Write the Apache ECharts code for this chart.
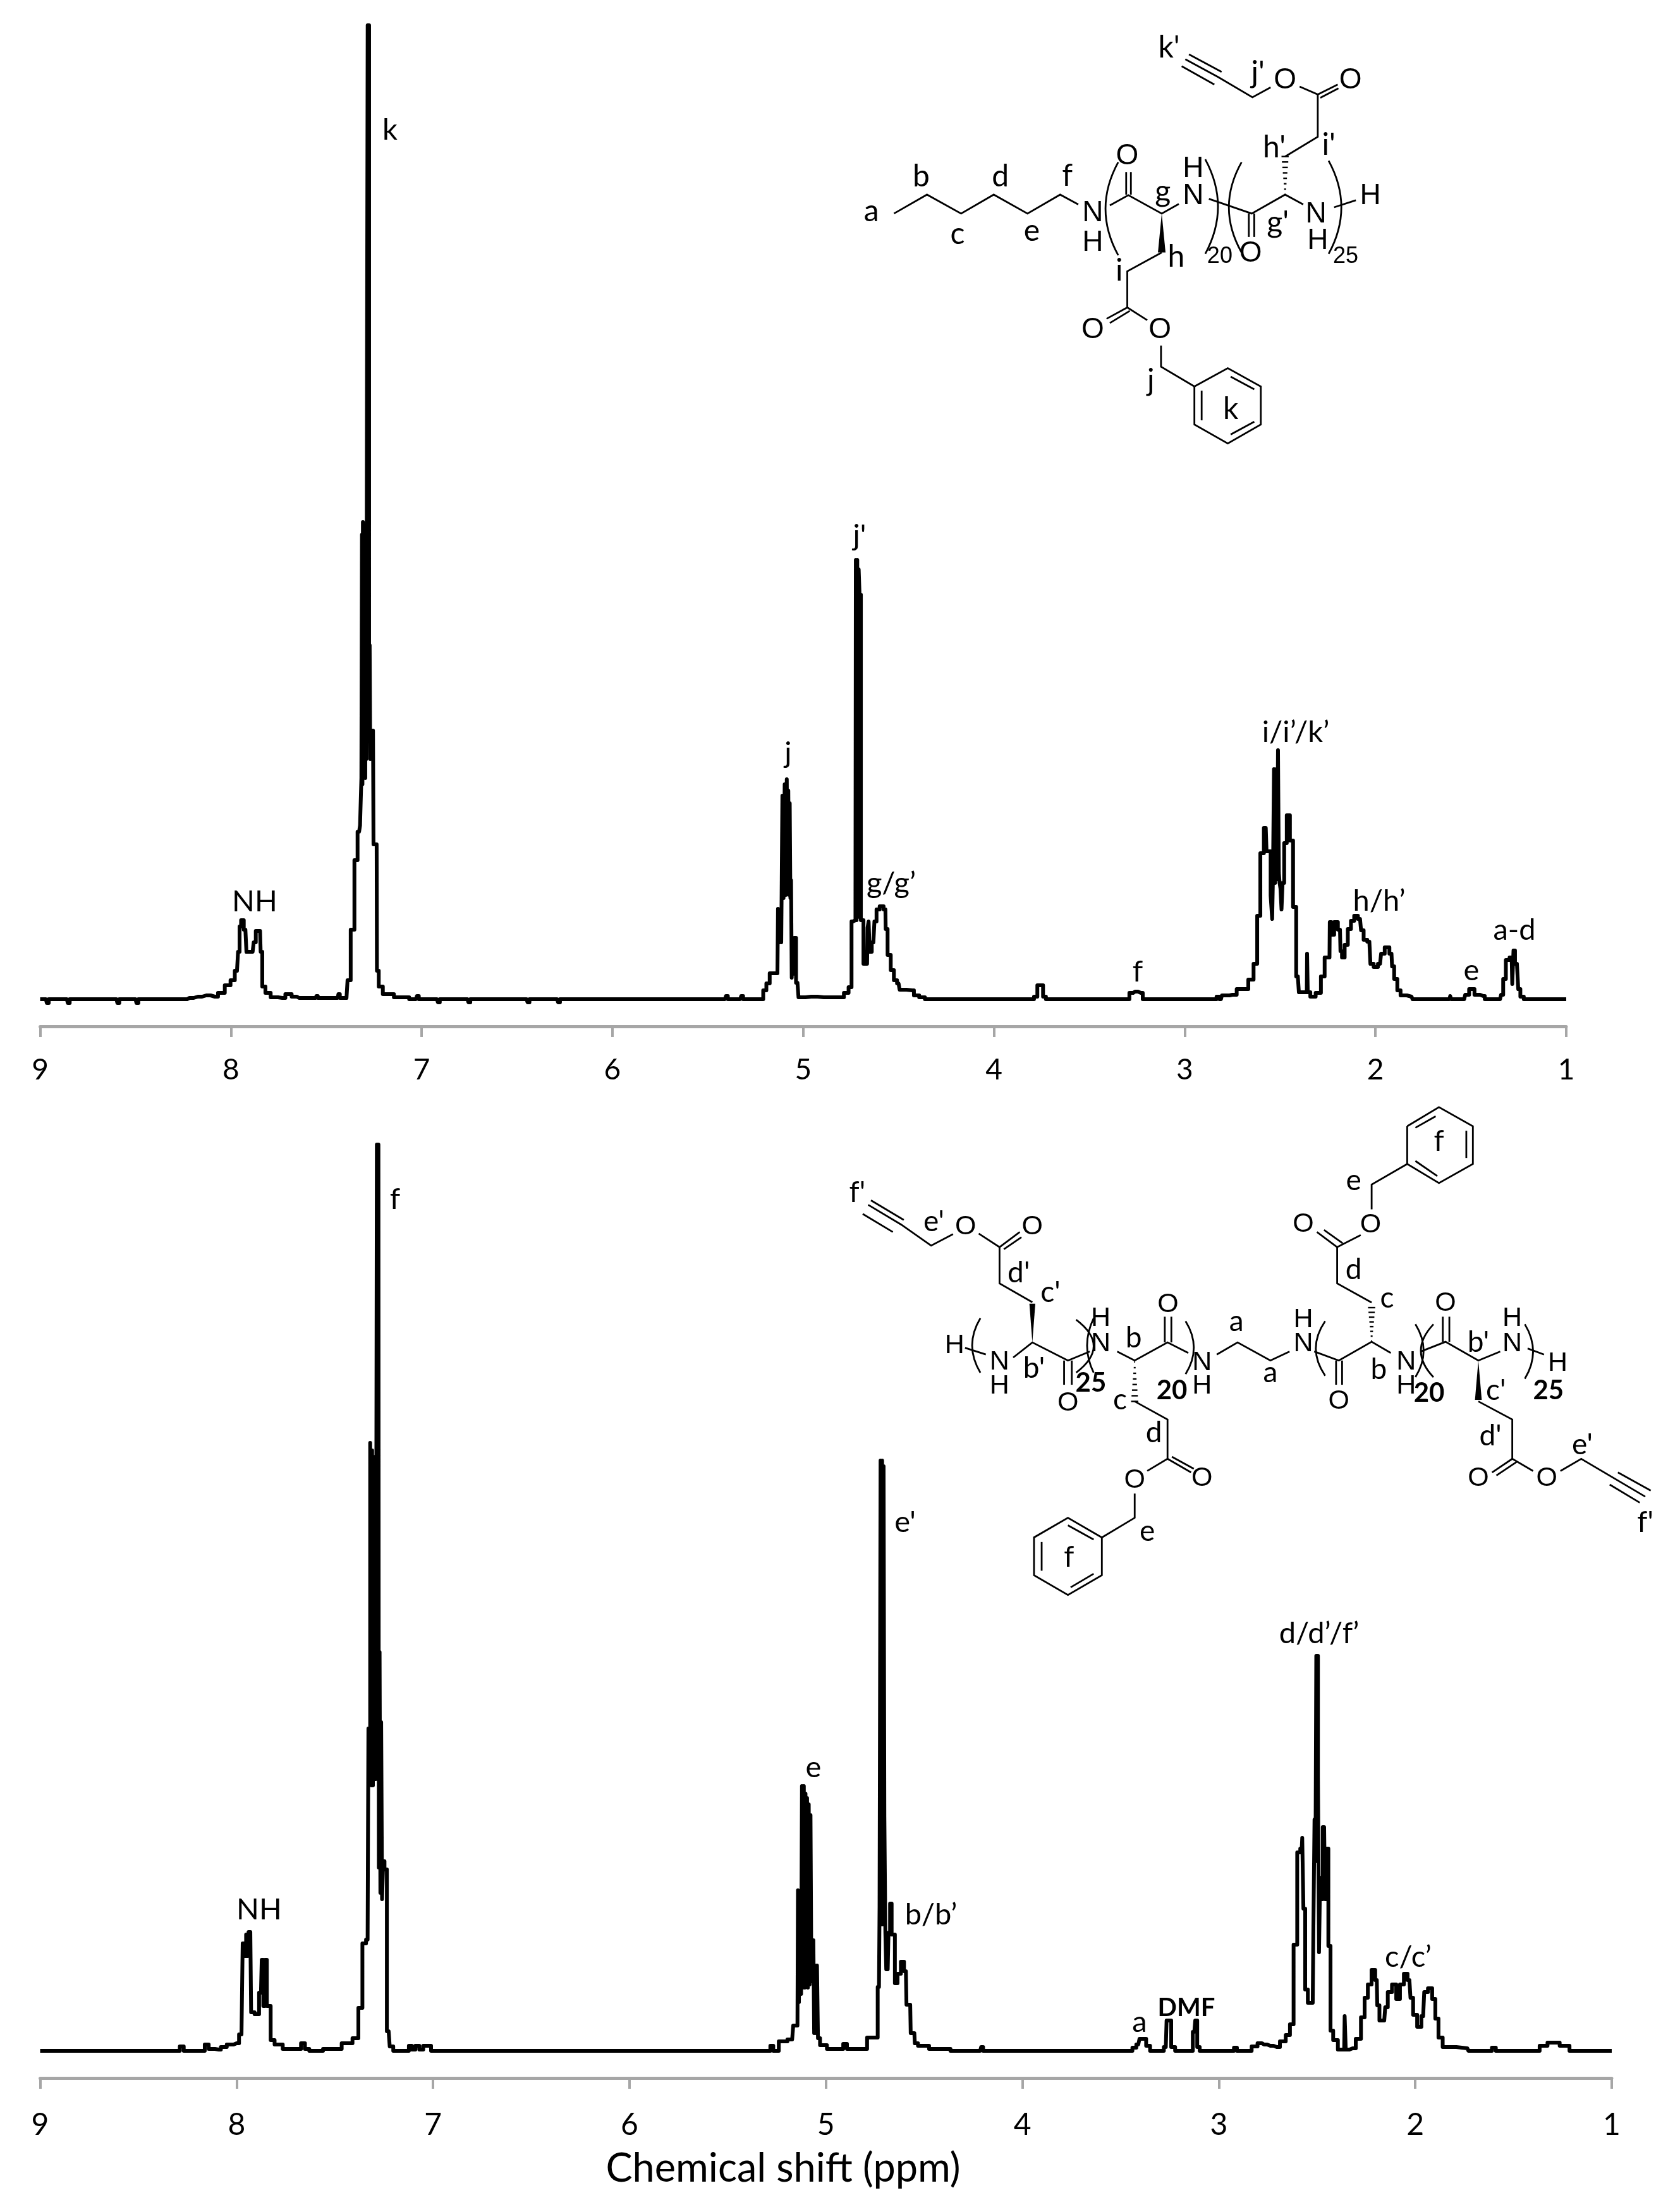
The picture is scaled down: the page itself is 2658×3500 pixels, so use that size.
<!DOCTYPE html>
<html>
<head>
<meta charset="utf-8">
<title>1H NMR spectra</title>
<script src="https://cdn.jsdelivr.net/npm/echarts@6/dist/echarts.min.js"></script>
<style>
  html, body { margin: 0; padding: 0; background: #fff; }
  #chart { width: 2658px; height: 3500px; }
</style>
</head>
<body>
<div id="chart"></div>
<script>
// x axis, ppm
const shiftMin = 1
const shiftMax = 9
const xTitle = 'Chemical shift (ppm)'

// upper spectrum, intensity in arbitrary units
const ppmTop = [
  9.00, 8.97, 8.96, 8.95, 8.86, 8.85, 8.84, 8.60, 8.59, 8.58, 8.50, 8.49, 8.48, 8.23,
  8.217, 8.173, 8.129, 8.084, 8.051, 8.013, 7.991, 7.968, 7.957, 7.952, 7.941, 7.924, 7.913, 7.886,
  7.875, 7.864, 7.847, 7.841, 7.830, 7.808, 7.775, 7.731, 7.698, 7.665, 7.643, 7.555, 7.549, 7.540,
  7.440, 7.433, 7.425, 7.394, 7.383, 7.361, 7.344, 7.328, 7.318, 7.314, 7.312, 7.309, 7.307, 7.304,
  7.302, 7.299, 7.297, 7.294, 7.292, 7.288, 7.285, 7.281, 7.277, 7.274, 7.271, 7.268, 7.265, 7.255,
  7.250, 7.236, 7.233, 7.217, 7.190, 7.101, 7.03, 7.02, 7.01, 6.92, 6.91, 6.90, 6.76, 6.75,
  6.74, 6.45, 6.44, 6.43, 6.29, 6.28, 6.27, 5.41, 5.40, 5.39, 5.33, 5.32, 5.31, 5.218,
  5.201, 5.185, 5.166, 5.135, 5.129, 5.122, 5.118, 5.112, 5.106, 5.100, 5.094, 5.088, 5.084, 5.080,
  5.076, 5.072, 5.069, 5.065, 5.062, 5.058, 5.054, 5.050, 5.045, 5.030, 5.019, 4.958, 4.892, 4.803,
  4.770, 4.754, 4.739, 4.726, 4.722, 4.718, 4.715, 4.711, 4.707, 4.702, 4.693, 4.675, 4.665, 4.660,
  4.654, 4.649, 4.632, 4.621, 4.610, 4.588, 4.569, 4.566, 4.549, 4.533, 4.516, 4.500, 4.489, 4.428,
  4.411, 4.373, 4.351, 3.80, 3.78, 3.765, 3.75, 3.735, 3.72, 3.30, 3.28, 3.26, 3.23, 3.21,
  2.84, 2.826, 2.81, 2.80, 2.78, 2.750, 2.705, 2.683, 2.650, 2.628, 2.612, 2.595, 2.575, 2.567,
  2.556, 2.543, 2.540, 2.535, 2.529, 2.523, 2.518, 2.513, 2.509, 2.504, 2.501, 2.495, 2.490, 2.484,
  2.473, 2.457, 2.440, 2.424, 2.407, 2.396, 2.369, 2.360, 2.357, 2.353, 2.330, 2.297, 2.275, 2.258,
  2.241, 2.238, 2.225, 2.208, 2.186, 2.181, 2.170, 2.153, 2.137, 2.120, 2.103, 2.081, 2.070, 2.054,
  2.032, 2.021, 1.998, 1.976, 1.965, 1.938, 1.916, 1.910, 1.894, 1.877, 1.860, 1.811, 1.800, 1.612,
  1.605, 1.601, 1.535, 1.524, 1.494, 1.468, 1.435, 1.419, 1.347, 1.336, 1.325, 1.308, 1.286, 1.280,
  1.273, 1.264, 1.253, 1.250, 1.231, 1.214, 1.00
]
const intensityTop = [
  0, 0, -6, 0, 0, -6, 0, 0, -6, 0, 0, -6, 0, 0,
  2, 4, 6, 4, 10, 22, 30, 45, 75, 115, 125, 110, 75, 75,
  90, 108, 108, 75, 20, 10, 3, 2, 8, 4, 2, 2, 5, 2,
  2, 8, 2, 2, 30, 110, 220, 265, 275, 350, 735, 340, 755, 350,
  735, 380, 740, 350, 750, 380, 1000, 1541, 1541, 450, 560, 380, 425, 425,
  245, 245, 45, 20, 8, 3, 0, 5, 0, 0, -5, 0, 0, -5,
  0, 0, -5, 0, 0, -5, 0, 0, 5, 0, 0, 5, 0, 0,
  14, 25, 41, 41, 143, 90, 128, 90, 322, 160, 340, 165, 348, 170,
  330, 165, 310, 160, 188, 34, 97, 40, 97, 26, 3, 4, 3, 3,
  10, 19, 123, 125, 695, 125, 695, 130, 680, 640, 125, 56, 56, 113,
  123, 75, 90, 123, 142, 147, 142, 111, 70, 46, 30, 25, 15, 14,
  6, 3, 0, 0, 4, 22, 22, 4, 0, 0, 10, 12, 10, 0,
  0, 4, 0, 6, 6, 7, 16, 16, 31, 56, 132, 231, 271, 234,
  234, 164, 127, 190, 364, 184, 364, 190, 394, 200, 184, 175, 142, 184,
  247, 291, 251, 146, 36, 11, 11, 11, 72, 11, 4, 10, 36, 66,
  66, 122, 102, 122, 110, 76, 66, 86, 111, 124, 132, 127, 109, 94,
  91, 56, 51, 56, 72, 82, 72, 52, 32, 14, 6, 4, 0, 0,
  5, 0, 0, 7, 16, 7, 5, 0, 0, 7, 32, 62, 66, 24,
  77, 56, 56, 16, 4, 0, 0
]

// lower spectrum
const ppmBottom = [
  9.00, 8.30, 8.278, 8.26, 8.17, 8.154, 8.13, 8.09, 8.07, 8.03, 8.00, 7.975, 7.963, 7.955,
  7.948, 7.942, 7.936, 7.930, 7.922, 7.895, 7.876, 7.868, 7.860, 7.852, 7.840, 7.813, 7.80, 7.73,
  7.68, 7.664, 7.64, 7.62, 7.50, 7.43, 7.39, 7.370, 7.349, 7.333, 7.325, 7.315, 7.312, 7.308,
  7.304, 7.301, 7.297, 7.293, 7.289, 7.283, 7.278, 7.274, 7.270, 7.266, 7.262, 7.257, 7.250, 7.244,
  7.226, 7.215, 7.19, 7.13, 7.116, 7.10, 7.08, 7.06, 7.04, 7.02, 7.00, 5.29, 5.276, 5.26,
  5.22, 5.172, 5.161, 5.145, 5.140, 5.135, 5.129, 5.124, 5.120, 5.115, 5.110, 5.106, 5.102, 5.098,
  5.094, 5.090, 5.085, 5.081, 5.076, 5.072, 5.070, 5.066, 5.062, 5.058, 5.054, 5.048, 5.043, 5.038,
  5.022, 4.968, 4.92, 4.904, 4.882, 4.80, 4.781, 4.743, 4.730, 4.724, 4.720, 4.716, 4.712, 4.708,
  4.705, 4.700, 4.695, 4.691, 4.687, 4.684, 4.679, 4.668, 4.663, 4.652, 4.646, 4.625, 4.612, 4.593,
  4.587, 4.571, 4.566, 4.550, 4.545, 4.518, 4.432, 4.30, 4.215, 4.205, 4.195, 3.45, 3.43, 3.41,
  3.398, 3.38, 3.36, 3.34, 3.29, 3.27, 3.262, 3.25, 3.235, 3.21, 3.14, 3.125, 3.115, 3.105,
  3.09, 2.93, 2.916, 2.90, 2.84, 2.826, 2.78, 2.770, 2.738, 2.705, 2.673, 2.646, 2.630, 2.609,
  2.593, 2.578, 2.573, 2.566, 2.555, 2.539, 2.522, 2.516, 2.510, 2.506, 2.502, 2.498, 2.493, 2.487,
  2.482, 2.478, 2.464, 2.455, 2.448, 2.437, 2.426, 2.410, 2.378, 2.362, 2.357, 2.351, 2.319, 2.287,
  2.266, 2.250, 2.233, 2.212, 2.196, 2.191, 2.174, 2.158, 2.148, 2.132, 2.105, 2.089, 2.067, 2.049,
  2.030, 2.019, 2.003, 1.978, 1.960, 1.949, 1.922, 1.906, 1.890, 1.874, 1.847, 1.735, 1.724, 1.62,
  1.60, 1.58, 1.38, 1.354, 1.30, 1.23, 1.20, 1.00
]
const intensityBottom = [
  0, 0, 7, 0, 0, 10, 3, 2, 6, 10, 12, 26, 170, 150,
  184, 150, 188, 188, 61, 58, 92, 144, 71, 144, 71, 17, 10, 3,
  3, 12, 3, 0, 3, 12, 20, 68, 170, 176, 510, 962, 420, 950, 420,
  930, 430, 940, 430, 1434, 1434, 290, 631, 250, 520, 240, 300, 287,
  31, 7, 0, 0, 8, 2, 8, 2, 8, 8, 0, 0, 8, 0,
  15, 18, 40, 40, 254, 77, 217, 90, 419, 100, 419, 100, 407, 105,
  400, 100, 390, 105, 373, 110, 175, 110, 175, 28, 135, 28, 135, 20,
  9, 3, 3, 11, 3, 3, 21, 21, 101, 230, 934, 200, 934, 200,
  925, 370, 187, 129, 129, 129, 187, 233, 184, 184, 107, 122, 141, 126,
  73, 73, 28, 28, 12, 8, 3, 0, 0, 6, 0, 0, 5, 10,
  19, 19, 8, 0, 0, 6, 48, 48, 6, 0, 0, 30, 48, 6,
  0, 0, 5, 0, 0, 7, 12, 10, 8, 6, 15, 25, 42, 168,
  314, 320, 337, 225, 97, 76, 76, 183, 366, 300, 625, 625, 433, 156,
  274, 240, 354, 240, 320, 166, 32, 17, 2, 2, 55, 2, 4, 19,
  53, 84, 105, 128, 112, 72, 48, 48, 69, 93, 105, 82, 105, 122,
  112, 84, 57, 38, 55, 93, 99, 82, 51, 21, 6, 4, 0, 0,
  5, 0, 0, 8, 13, 8, 0, 0
]

// peak assignments
const peakNamesTop = ['NH', 'k', "j'", 'j', 'g/g’', 'f', 'i/i’/k’', 'h/h’', 'e', 'a-d']
const peakNamesBottom = ['NH', 'f', 'e', "e'", 'b/b’', 'a', 'c/c’', 'd/d’/f’']
const peakSpotsTop = [[403, 1427], [617, 206], [1360, 848], [1247, 1192], [1410, 1398], [1800, 1538], [2050, 1159], [2182, 1426], [2328, 1536], [2396, 1472]]
const peakSpotsBottom = [[410, 3022], [625, 1898], [1287, 2797], [1432, 2409], [1473, 3030], [1803, 3200], [2228, 3097], [2087, 2585]]

const labelFont = 'Lato'
const atomFont = '"Liberation Sans"'

// structure drawings, traced in zoomed crop coordinates and mapped with the functions below
const mapStructTop = (x, y) => [1330 + x / 1.742, 20 + y / 2.24]
const mapStructBottom = (x, y) => [1300 + x / 1.155, 1770 + y / 2.09]

const bondsStructTop = [
  [147, 712, 238, 645, 332, 712, 422, 645, 515, 712, 605, 645, 655, 680],
  [742, 683, 793, 647, 885, 712, 932, 678],
  [787, 645, 787, 565], [800, 645, 800, 565],
  [885, 850, 790, 917, 790, 1045, 845, 1090],
  [790, 1045, 733, 1085], [797, 1057, 742, 1100],
  [883, 1180, 883, 1255, 975, 1325],
  [975, 1325, 1067, 1260, 1158, 1325, 1158, 1460, 1067, 1527, 975, 1460, 975, 1325],
  [995, 1340, 995, 1445], [1075, 1290, 1140, 1335], [1075, 1495, 1140, 1450],
  [1015, 660, 1133, 712, 1225, 645, 1275, 680],
  [1125, 712, 1125, 795], [1140, 712, 1140, 795],
  [1225, 510, 1315, 440, 1315, 290, 1265, 262],
  [1315, 290, 1370, 255], [1322, 302, 1372, 268],
  [1185, 265, 1135, 300, 1040, 228, 950, 165],
  [1050, 210, 960, 148], [1030, 255, 940, 190],
  [1360, 690, 1420, 665]
]
const wedgesStructTop = [[885, 712, 885, 850, 9]]
const hashesStructTop = [[1225, 645, 1225, 510]]
const parensStructTop = [[765, 530, 765, 860, 730], [1005, 520, 1005, 855, 1040], [1105, 530, 1105, 850, 1070], [1345, 525, 1345, 855, 1380]]
const atomsStructTop = [
  ['N', 695, 710], ['H', 695, 815], ['O', 790, 510], ['H', 972, 555], ['N', 972, 650], ['O', 1130, 855],
  ['N', 1310, 715], ['H', 1315, 810], ['H', 1460, 650], ['O', 1225, 240], ['O', 1405, 240], ['O', 695, 1125], ['O', 880, 1125]
]
const countsStructTop = [['20', 1045, 865], ['25', 1392, 865]]
const tagsStructTop = [
  ['a', 85, 705], ['b', 222, 582], ['c', 322, 785], ['d', 440, 582], ['e', 527, 775], ['f', 625, 578],
  ['g', 888, 635], ['h', 925, 865], ['i', 768, 915], ["h'", 1195, 478], ["i'", 1345, 470], ["g'", 1205, 745],
  ["k'", 905, 125], ["j'", 1150, 215], ['j', 855, 1305], ['k', 1075, 1405]
]

const bondsStructBottom = [
  [1070, 25, 1128, -38, 1190, 25, 1190, 150, 1128, 213, 1070, 150, 1070, 25],
  [1085, 140, 1125, 190], [1178, 40, 1178, 130], [1085, 30, 1122, -8],
  [1070, 150, 1005, 218, 1005, 300],
  [985, 385, 942, 425, 942, 545, 1005, 608],
  [942, 425, 905, 375], [952, 412, 918, 368],
  [1040, 775, 1005, 738, 945, 800, 900, 770],
  [940, 800, 940, 880], [951, 800, 951, 880],
  [1095, 770, 1140, 738, 1200, 800, 1240, 770],
  [1135, 738, 1135, 655], [1147, 738, 1147, 655],
  [1200, 935, 1262, 995, 1262, 1125, 1300, 1165],
  [1262, 1125, 1225, 1170], [1270, 1135, 1233, 1180],
  [1350, 1165, 1388, 1125, 1505, 1250],
  [1455, 1170, 1515, 1230], [1440, 1210, 1495, 1270],
  [1290, 760, 1320, 780],
  [85, 285, 145, 350, 200, 420, 240, 382],
  [150, 335, 90, 270], [130, 375, 75, 315],
  [287, 380, 325, 425, 325, 545, 385, 607],
  [325, 425, 362, 375], [333, 432, 365, 392],
  [262, 758, 300, 780],
  [350, 790, 385, 740, 450, 800, 490, 770],
  [443, 800, 443, 880], [457, 800, 457, 880],
  [540, 770, 572, 800, 632, 740, 670, 775],
  [627, 740, 627, 655], [639, 740, 639, 655],
  [572, 935, 632, 995, 632, 1125, 595, 1165],
  [632, 1125, 675, 1170], [640, 1118, 680, 1158],
  [572, 1240, 572, 1320, 512, 1385],
  [512, 1385, 450, 1320, 388, 1385, 388, 1510, 450, 1575, 512, 1510, 512, 1385],
  [402, 1400, 402, 1495], [450, 1345, 497, 1392], [455, 1550, 497, 1505],
  [722, 780, 760, 740, 820, 800, 855, 770]
]
const wedgesStructBottom = [[1200, 800, 1200, 930, 8], [385, 740, 385, 612, 7]]
const hashesStructBottom = [[1005, 735, 1005, 625], [572, 805, 572, 935]]
const parensStructBottom = [
  [290, 660, 290, 840, 275], [465, 665, 465, 840, 497], [497, 660, 497, 840, 485], [665, 670, 665, 845, 680],
  [920, 670, 920, 850, 903], [1085, 680, 1085, 855, 1100], [1118, 680, 1118, 855, 1095], [1285, 680, 1285, 860, 1300]
]
const atomsStructBottom = [
  ['O', 263, 358], ['O', 385, 358], ['H', 243, 750], ['N', 325, 805], ['H', 325, 885], ['O', 450, 940],
  ['H', 510, 660], ['N', 510, 745], ['O', 633, 615], ['O', 695, 1190], ['O', 572, 1195], ['N', 695, 808],
  ['H', 695, 885], ['H', 880, 665], ['N', 880, 745], ['O', 945, 935], ['N', 1068, 805], ['H', 1068, 885],
  ['O', 1140, 610], ['H', 1262, 660], ['N', 1262, 745], ['H', 1345, 810], ['O', 1200, 1190], ['O', 1325, 1190],
  ['O', 880, 350], ['O', 1003, 352]
]
const countsStructBottom = [['25', 492, 875], ['20', 640, 900], ['20', 1110, 908], ['25', 1328, 900]]
const tagsStructBottom = [
  ["f'", 65, 245], ["e'", 205, 340], ["d'", 360, 510], ["c'", 418, 575], ["b'", 388, 825], ['b', 570, 725],
  ['c', 545, 930], ['d', 607, 1040], ['e', 595, 1365], ['f', 452, 1450], ['a', 758, 672], ['a', 820, 840],
  ['d', 972, 500], ['c', 1033, 593], ['e', 972, 205], ['f', 1128, 75], ['b', 1018, 830], ["b'", 1200, 740],
  ["c'", 1232, 900], ["d'", 1222, 1050], ["e'", 1390, 1078], ["f'", 1505, 1335]
]

function textEl(text, x, y, fontSize, fontFamily, fontWeight) {
  return {
    type: 'text',
    x: x,
    y: y,
    silent: true,
    style: {
      text: text,
      fill: '#000',
      fontSize: fontSize,
      fontFamily: fontFamily,
      fontWeight: fontWeight || 'normal',
      align: 'center',
      verticalAlign: 'middle'
    }
  }
}

function structure(map, parts, sizes) {
  const els = []
  const thin = { stroke: '#000', lineWidth: 2.8, fill: null }
  parts.bonds.forEach(b => {
    const pts = []
    for (let i = 0; i < b.length; i += 2) pts.push(map(b[i], b[i + 1]))
    els.push({ type: 'polyline', silent: true, shape: { points: pts }, style: thin })
  })
  parts.wedges.forEach(w => {
    const a = map(w[0], w[1])
    const c = map(w[2], w[3])
    els.push({
      type: 'polygon',
      silent: true,
      shape: { points: [a, [c[0] - w[4] / 1.5, c[1]], [c[0] + w[4] / 1.5, c[1]]] },
      style: { fill: '#000' }
    })
  })
  parts.hashes.forEach(h => {
    const a = map(h[0], h[1])
    const c = map(h[2], h[3])
    for (let i = 0; i < 8; i++) {
      const y = a[1] + ((c[1] - a[1]) * i) / 7
      const half = 0.8 + i * 0.7
      els.push({ type: 'line', silent: true, shape: { x1: a[0] - half, y1: y, x2: a[0] + half, y2: y }, style: { stroke: '#000', lineWidth: 2.4 } })
    }
  })
  parts.parens.forEach(p => {
    const a = map(p[0], p[1])
    const c = map(p[2], p[3])
    const bulge = map(p[4], 0)[0]
    els.push({
      type: 'bezierCurve',
      silent: true,
      shape: { x1: a[0], y1: a[1], x2: c[0], y2: c[1], cpx1: a[0] + 2 * (bulge - a[0]), cpy1: (a[1] + c[1]) / 2 },
      style: thin
    })
  })
  parts.atoms.forEach(t => {
    const p = map(t[1], t[2])
    els.push(textEl(t[0], p[0], p[1], sizes.atom, atomFont))
  })
  parts.counts.forEach(t => {
    const p = map(t[1], t[2])
    els.push(textEl(t[0], p[0], p[1], sizes.count, sizes.countFont, sizes.countWeight))
  })
  parts.tags.forEach(t => {
    const p = map(t[1], t[2])
    els.push(textEl(t[0], p[0], p[1], sizes.tag, labelFont))
  })
  return els
}

const peakEls = []
peakNamesTop.forEach((n, i) => peakEls.push(textEl(n, peakSpotsTop[i][0], peakSpotsTop[i][1], 47, labelFont)))
peakNamesBottom.forEach((n, i) => peakEls.push(textEl(n, peakSpotsBottom[i][0], peakSpotsBottom[i][1], 47, labelFont)))
peakEls.push(textEl('DMF', 1877, 3177, 40, labelFont, 'bold'))

const structEls = structure(mapStructTop, {
  bonds: bondsStructTop, wedges: wedgesStructTop, hashes: hashesStructTop, parens: parensStructTop,
  atoms: atomsStructTop, counts: countsStructTop, tags: tagsStructTop
}, { atom: 46, tag: 48, count: 36, countFont: atomFont, countWeight: 'normal' }).concat(structure(mapStructBottom, {
  bonds: bondsStructBottom, wedges: wedgesStructBottom, hashes: hashesStructBottom, parens: parensStructBottom,
  atoms: atomsStructBottom, counts: countsStructBottom, tags: tagsStructBottom
}, { atom: 43, tag: 46, count: 42, countFont: labelFont, countWeight: 'bold' }))

function xAxisFor(gridIndex, offset, margin, fontSize) {
  return {
    gridIndex: gridIndex,
    type: 'value',
    inverse: true,
    min: shiftMin,
    max: shiftMax,
    interval: 1,
    offset: offset,
    position: 'bottom',
    splitLine: { show: false },
    axisLine: { onZero: false, lineStyle: { color: '#a6a6a6', width: 5 } },
    axisTick: { length: 17, lineStyle: { color: '#a6a6a6', width: 4 } },
    axisLabel: { color: '#000', fontSize: fontSize, fontFamily: labelFont, margin: margin, showMinLabel: true, showMaxLabel: true }
  }
}

function spectrum(index, ppm, intensity) {
  return {
    type: 'line',
    xAxisIndex: index,
    yAxisIndex: index,
    step: 'middle',
    showSymbol: false,
    animation: false,
    silent: true,
    clip: false,
    lineStyle: { color: '#000', width: 6, join: 'round' },
    data: ppm.map((p, i) => [p, intensity[i]])
  }
}

const chart = echarts.init(document.getElementById('chart'), null, { renderer: 'canvas' })
chart.setOption({
  animation: false,
  backgroundColor: '#fff',
  grid: [
    { left: 63.5, right: 180, top: 40, height: 1560 },
    { left: 63.5, right: 108, top: 1811, height: 1453 }
  ],
  xAxis: [xAxisFor(0, 24, 46, 46), xAxisFor(1, 24, 51, 48)],
  yAxis: [
    { gridIndex: 0, type: 'value', min: -19, max: 1541, show: false },
    { gridIndex: 1, type: 'value', min: -19, max: 1434, show: false }
  ],
  series: [spectrum(0, ppmTop, intensityTop), spectrum(1, ppmBottom, intensityBottom)],
  graphic: { elements: peakEls.concat(structEls, [textEl(xTitle, 1239, 3432, 63, labelFont)]) }
})
</script>
</body>
</html>
